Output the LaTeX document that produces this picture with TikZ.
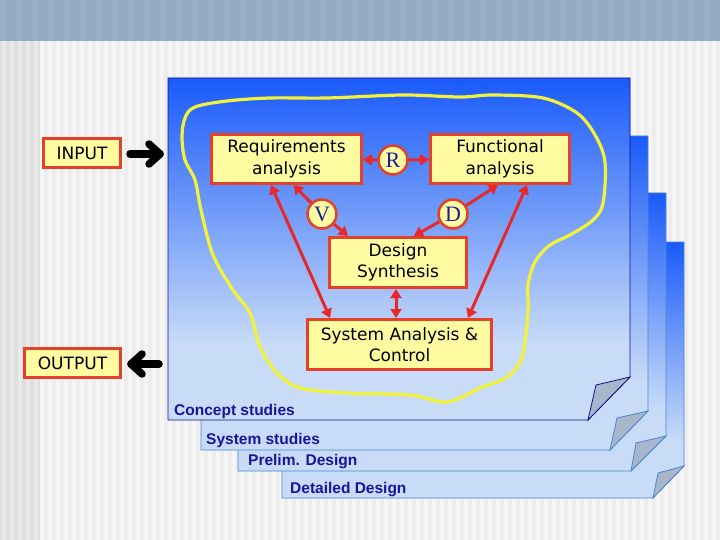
\documentclass[tikz,border=0pt]{standalone}
\usepackage{fontspec}
\setmainfont{DejaVu Sans}
\newfontfamily\labfont{Liberation Sans}
\newfontfamily\serfont{Liberation Serif}
\usetikzlibrary{arrows.meta,calc}
\definecolor{bandblue}{HTML}{92AAC3}
\definecolor{bggray}{HTML}{EDEDED}
\definecolor{stripe}{HTML}{F5F5F5}
\definecolor{leftgray}{HTML}{DFDFDF}
\definecolor{pageblue}{HTML}{1A5AFA}
\definecolor{pagelight}{HTML}{C8DCF8}
\definecolor{frontedge}{HTML}{10108C}
\definecolor{backedge}{HTML}{4A86D0}
\definecolor{flapgray}{HTML}{A8B6CC}
\definecolor{boxfill}{HTML}{FFFBA0}
\definecolor{boxedge}{HTML}{E4402C}
\definecolor{arrred}{HTML}{E82828}
\definecolor{loopyellow}{HTML}{F2F23A}
\definecolor{labblue}{HTML}{16169A}
\definecolor{letterblue}{HTML}{1A1AA0}
\pgfdeclareverticalshading{pageshade}{100bp}{color(0bp)=(pagelight); color(36bp)=(pagelight); color(75bp)=(pageblue); color(100bp)=(pageblue)}
\tikzset{
  box/.style={draw=boxedge, line width=3pt, fill=boxfill, align=center, inner sep=0pt,
    font=\fontsize{17}{21.5}\selectfont},
  lett/.style={circle, draw=boxedge, line width=2.5pt, fill=boxfill, minimum size=29pt,
    inner sep=0pt, font=\serfont\fontsize{22}{22}\selectfont, text=letterblue},
  rarr/.style={draw=arrred, line width=3pt, -{Triangle[length=9pt,width=11pt]}},
  rarrtwo/.style={draw=arrred, line width=3pt, {Triangle[length=9pt,width=11pt]}-{Triangle[length=9pt,width=11pt]}},
  blk/.style={line width=7.5pt, line cap=round, line join=round, draw=black},
  pagelab/.style={anchor=base west, inner sep=0pt, text=labblue,
    font=\labfont\bfseries\fontsize{15.5}{16}\selectfont},
  sheet/.style={draw=backedge, line width=0.8pt, shading=pageshade},
  flap/.style={draw=backedge, line width=0.8pt, fill=flapgray},
  loopline/.style={draw=loopyellow, line width=3.2pt}
}
\begin{document}
\begin{tikzpicture}[x=1pt,y=-1pt]
\useasboundingbox (0,0) rectangle (720,540);
% background
\fill[bggray] (0,0) rectangle (720,540);
\foreach \xx in {40,48,...,712} \fill[stripe] (\xx,41) rectangle ++(4,499);
\fill[leftgray] (0,41) rectangle (40,540);
\foreach \xx in {2,10,...,34} \fill[bggray!80!leftgray] (\xx,41) rectangle ++(4,499);
\fill[bandblue] (0,0) rectangle (720,41);
\foreach \xx in {0,16,...,704} \fill[bandblue!94!white] (\xx,0) rectangle ++(6,41);

% back sheets
\draw[sheet] (282,242) -- (684,242) -- (684,466) -- (653,498) -- (282,498) -- cycle;
\draw[flap] (684,466) -- (658,473) -- (653,498) -- cycle;
\draw[sheet] (238,193) -- (666,193) -- (666,436) -- (631,471) -- (238,471) -- cycle;
\draw[flap] (666,436) -- (636,443) -- (631,471) -- cycle;
\draw[sheet] (201,136) -- (648,136) -- (648,411) -- (610,450) -- (201,450) -- cycle;
\draw[flap] (648,411) -- (617,418) -- (610,450) -- cycle;
% front sheet
\draw[sheet, draw=frontedge] (168,78) -- (630,78) -- (630,377) -- (588,420) -- (168,420) -- cycle;
\draw[flap, draw=frontedge] (630,377) -- (596,385) -- (588,420) -- cycle;

% sheet labels
\node[pagelab] (l1) at (174,415) {Concept studies};
\node[pagelab] (l2) at (206,444) {System studies};
\node[pagelab] (l3) at (248,465.5) {Prelim. Design};
\node[pagelab] (l4) at (290,493) {Detailed Design};

% yellow loop
\draw[loopline] plot[smooth cycle, tension=0.55] coordinates {
 (603,203) (593,220) (570,235) (550,245) (535,262) (528,285) (528,313) (522,357)
 (507,377) (480,388) (447,402) (410,395) (347,393) (300,388) (277,373) (260,347)
 (250,313) (233,290) (213,255) (201,210) (195,180) (185,160) (182,137) (185,118)
 (195,107) (227,101) (270,98) (327,98) (403,95) (460,97) (493,95) (543,98)
 (577,113) (595,135) (605,162)};

% boxes
\node[box, minimum width=150pt, minimum height=49pt] (req) at (286.5,159) {Requirements\\analysis};
\node[box, minimum width=139pt, minimum height=49pt] (func) at (500,159) {Functional\\analysis};
\node[box, minimum width=137pt, minimum height=50pt] (ds) at (398,262.5) {Design\\Synthesis};
\node[box, minimum width=184pt, minimum height=50pt] (sac) at (399.5,344.5) {System Analysis \&\\Control};
\node[box, minimum width=77pt, minimum height=29pt] (inbox) at (82,153) {INPUT};
\node[box, minimum width=96pt, minimum height=29pt] (outbox) at (72.5,363) {OUTPUT};

% letter circles
\node[lett] (R) at (393,160) {R};
\node[lett] (V) at (322,214) {V};
\node[lett] (D) at (453,214) {D};

% red arrows
\draw[rarr] (R) -- (req);
\draw[rarr] (R) -- (func);
\draw[rarr] (V) -- ($(req.south)+(7,0)$);
\draw[rarr] (V) -- ($(ds.north west)+(20,0)$);
\draw[rarr] (D) -- ($(func.south)+(-2,0)$);
\draw[rarr] (D) -- ($(ds.north east)+(-54,0)$);
\draw[rarrtwo] ($(req.south west)+(61,0)$) -- ($(sac.north west)+(24,0)$);
\draw[rarrtwo] ($(func.south west)+(98,0)$) -- ($(sac.north east)+(-25,0)$);
\draw[rarrtwo] ($(ds.south)+(-2,0)$) -- ($(sac.north)+(-3.5,0)$);

% black input / output arrows
\coordinate (inTip) at (160,154);
\draw[blk] ($(inbox.east)+(8,1)$) -- (inTip);
\draw[blk] ($(inTip)+(-11,-10)$) -- (inTip) -- ($(inTip)+(-11,10)$);
\coordinate (outTail) at (159,364);
\coordinate (outTip) at ($(outbox.east)+(9,1)$);
\draw[blk] (outTail) -- (outTip);
\draw[blk] ($(outTip)+(11,-10)$) -- (outTip) -- ($(outTip)+(11,10)$);
\end{tikzpicture}
\end{document}
